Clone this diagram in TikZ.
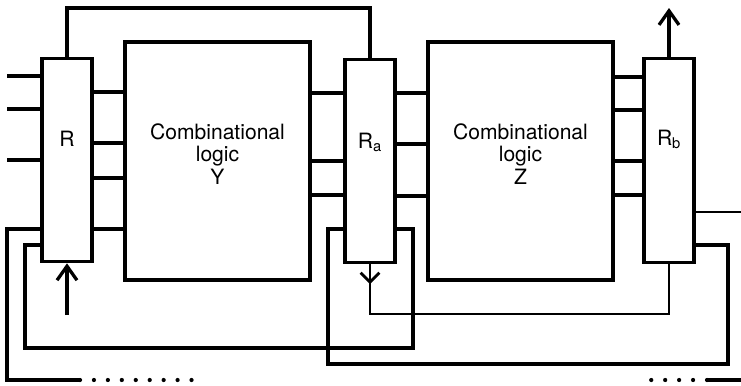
\documentclass[tikz,border=0pt]{standalone}
\usepackage{fontspec}
\setmainfont{TeX Gyre Heros}
\usetikzlibrary{arrows.meta}

\tikzset{
  reg/.style={draw, line width=2.8pt, minimum width=1.5cm, minimum height=6.1cm, inner sep=0pt},
  logic/.style={draw, line width=2.8pt, minimum width=5.55cm, minimum height=7.14cm, inner sep=0pt},
  wire/.style={line width=2.8pt},
  thinwire/.style={line width=2.4pt},
  arr/.style={-{Straight Barb[length=12pt,width=17pt]}},
  dots/.style={line width=3.6pt, line cap=round, dash pattern=on 0pt off 11.9pt},
}

\begin{document}
\begin{tikzpicture}[x=0.03cm, y=-0.03cm, font=\fontsize{18}{19}\selectfont]
    \useasboundingbox (0,0) rectangle (741,385);
    % Registers and logic blocks
    \node[reg, label={[yshift=18pt]center:R}] (R) at (67,160) {};
    \node[logic, label={[yshift=6pt, align=center]center:Combinational\\logic\\Y}] (Y) at (217.5,161) {};
    \node[reg, label={[yshift=16pt]center:R\textsubscript{a}}] (Ra) at (370,161) {};
    \node[logic, label={[yshift=6pt, align=center]center:Combinational\\logic\\Z}] (Z) at (520.5,161) {};
    \node[reg, label={[yshift=18pt]center:R\textsubscript{b}}] (Rb) at (669,160.5) {};
    % Inputs into R
    \foreach \y in {76,109,160} {
      \coordinate (in-\y) at (7,\y);
      \draw[wire] (in-\y) -- (R.west |- in-\y);
    }
    % R to Y
    \foreach \y in {92,143,178,229} {
      \draw[wire] (R.east |- 0,\y) -- (Y.west |- 0,\y);
    }
    % Y to Ra
    \foreach \y in {93,161,195} {
      \draw[wire] (Y.east |- 0,\y) -- (Ra.west |- 0,\y);
    }
    % Ra to Z
    \foreach \y in {93,144,196} {
      \draw[wire] (Ra.east |- 0,\y) -- (Z.west |- 0,\y);
    }
    % Z to Rb
    \foreach \y in {77,110,161,195} {
      \draw[wire] (Z.east |- 0,\y) -- (Rb.west |- 0,\y);
    }
    % Outputs of Rb
    \coordinate (out) at (741,212);
    \draw[thinwire] (Rb.east |- out) -- (out);
    \coordinate (out-top) at (669,8);
    \draw[wire, arr] (Rb.north) -- (out-top);
    % Top wire R to Ra
    \draw[wire] (R.north) -- (R.north |- 0,8) -| (Ra.north);
    % Arrow into R
    \coordinate (in-bot) at (67,315);
    \draw[wire, arr] (in-bot) -- (R.south);
    % Ra to Rb along the bottom
    \draw[thinwire] (Ra.south) -- (Ra.south |- 0,314) -| (Rb.south);
    \draw[thinwire, -{Straight Barb[length=8pt,width=16pt]}] (Ra.south) -- (Ra.south |- 0,284);
    % Feedback Ra to R
    \draw[wire] (Ra.east |- 0,229) -- (413,229) |- (25,348) |- (R.west |- 0,245);
    % Feedback Rb to Ra
    \draw[wire] (Rb.east |- 0,245) -- (728,245) |- (328,364) |- (Ra.west |- 0,229);
    % Outer loop, broken
    \coordinate (cut-l) at (80,380);
    \coordinate (cut-r) at (707,380);
    \draw[wire] (R.west |- 0,229) -- (7,229) |- (cut-l);
    \draw[dots] (cut-l) -- ++(125,0);
    \draw[dots] (cut-r) -- ++(-64,0);
    \draw[wire] (cut-r) -- (741,380);
\end{tikzpicture}
\end{document}
